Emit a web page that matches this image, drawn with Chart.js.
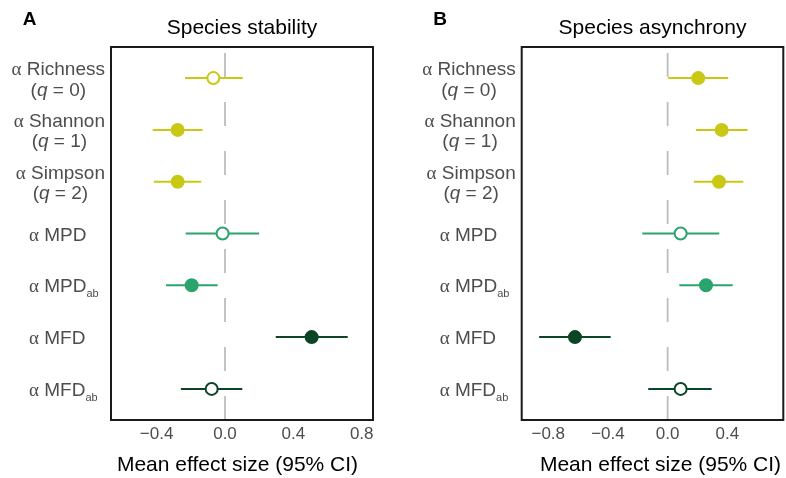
<!DOCTYPE html>
<html>
<head>
<meta charset="utf-8">
<script src="https://cdn.jsdelivr.net/npm/chart.js@4.4.0/dist/chart.umd.min.js"></script>
<style>
  html, body { margin: 0; padding: 0; background: #ffffff; }
  #wrap { position: relative; width: 786px; height: 478px; }
  canvas { position: absolute; top: 0; }
</style>
</head>
<body>
<div id="wrap">
  <canvas id="panelA" width="393" height="478" style="left:0px"></canvas>
  <canvas id="panelB" width="393" height="478" style="left:393px"></canvas>
</div>
<script>
// Diversity metrics, top to bottom ("*x*" = italic, "_ab" = subscript)
const rowLabels = [
  'α Richness\n(*q* = 0)',
  'α Shannon\n(*q* = 1)',
  'α Simpson\n(*q* = 2)',
  'α MPD',
  'α MPD_ab',
  'α MFD',
  'α MFD_ab'
];
const rowColors = ['#c9c814', '#c9c814', '#c9c814', '#2aa46c', '#2aa46c', '#0b4526', '#0b4526'];

// Species stability: mean effect size and 95% CI
const stabilityMean = [-0.068, -0.277, -0.277, -0.014, -0.195, 0.507, -0.078];
const stabilityLow  = [-0.234, -0.423, -0.416, -0.230, -0.345, 0.297, -0.258];
const stabilityHigh = [0.104, -0.131, -0.139, 0.200, -0.043, 0.718, 0.101];

// Species asynchrony: mean effect size and 95% CI
const asynchronyMean = [0.205, 0.362, 0.344, 0.087, 0.257, -0.621, 0.087];
const asynchronyLow  = [0.004, 0.190, 0.176, -0.170, 0.078, -0.861, -0.130];
const asynchronyHigh = [0.406, 0.536, 0.507, 0.346, 0.436, -0.382, 0.295];

// Tick labels of the effect-size axes
const stabilityTicks = [-0.4, 0.0, 0.4, 0.8];
const asynchronyTicks = [-0.8, -0.4, 0.0, 0.4];

const SANS = '"Liberation Sans", Arial, sans-serif';
const SERIF = '"Liberation Serif", "Times New Roman", serif';
const CANVAS_W = 393, CANVAS_H = 478;

function fmtTick(v) {
  if (Math.abs(v) < 1e-9) return '0.0';
  return (v < 0 ? '\u2212' : '') + Math.abs(v).toFixed(1);
}

// --- rich text for the row labels ---
function parseLine(line) {
  const segs = [];
  const re = /(α)|\*([^*]+)\*|_(\w+)|([^α*_]+)/g;
  let m;
  while ((m = re.exec(line))) {
    if (m[1]) segs.push({ t: m[1], kind: 'greek' });
    else if (m[2]) segs.push({ t: m[2], kind: 'italic' });
    else if (m[3]) segs.push({ t: m[3], kind: 'sub' });
    else segs.push({ t: m[4], kind: 'plain' });
  }
  return segs;
}
function segFont(kind) {
  if (kind === 'greek') return '19px ' + SERIF;
  if (kind === 'italic') return 'italic 19px ' + SANS;
  if (kind === 'sub') return '11px ' + SANS;
  return '19px ' + SANS;
}
function segsWidth(ctx, segs) {
  let w = 0;
  segs.forEach(s => { ctx.font = segFont(s.kind); w += ctx.measureText(s.t).width; });
  return w;
}
function drawSegs(ctx, segs, x, base) {
  segs.forEach(s => {
    ctx.font = segFont(s.kind);
    ctx.fillText(s.t, x, base + (s.kind === 'sub' ? 5 : 0));
    x += ctx.measureText(s.t).width;
  });
}

// Frame, row labels, panel letter and axis title
const panelDecor = {
  id: 'panelDecor',
  afterDraw(chart, args, opts) {
    const ctx = chart.ctx;
    const a = chart.chartArea;
    const ys = chart.scales.y;
    ctx.save();

    ctx.strokeStyle = '#1a1a1a';
    ctx.lineWidth = 2;
    ctx.strokeRect(a.left, a.top, a.right - a.left, a.bottom - a.top);

    ctx.fillStyle = '#4d4d4d';
    ctx.textAlign = 'left';
    ctx.textBaseline = 'alphabetic';
    rowLabels.forEach((label, i) => {
      const y = ys.getPixelForValue(i + 1);
      const lines = label.split('\n').map(parseLine);
      if (lines.length > 1) {
        const widths = lines.map(l => segsWidth(ctx, l));
        const blockW = Math.max(...widths);
        const right = a.left - 6;
        const bases = [y - 3, y + 17.5];
        lines.forEach((l, k) => drawSegs(ctx, l, right - blockW / 2 - widths[k] / 2, bases[k]));
      } else {
        drawSegs(ctx, lines[0], a.left - 82, y + 7);
      }
    });

    ctx.fillStyle = '#000000';
    ctx.font = 'bold 19px ' + SANS;
    ctx.fillText(opts.letter, opts.letterX, 25);

    ctx.font = '21px ' + SANS;
    ctx.textAlign = 'center';
    ctx.fillText(opts.axisTitle, (a.left + a.right) / 2 + opts.axisTitleShift, 471);
    ctx.restore();
  }
};

function buildPanel(canvasId, p) {
  const yMin = 1 - 0.6, yMax = rowLabels.length + 0.6;
  const datasets = [];

  // dashed reference line at zero effect, drawn from the bottom up
  datasets.push({
    type: 'line',
    data: [{ x: 0, y: yMax }, { x: 0, y: yMin }],
    borderColor: '#bdbdbd', borderWidth: 1.8, borderDash: [24, 25],
    pointRadius: 0, order: 3
  });

  // confidence intervals
  p.low.forEach((lo, i) => {
    datasets.push({
      type: 'line',
      data: [{ x: lo, y: i + 1 }, { x: p.high[i], y: i + 1 }],
      borderColor: rowColors[i], borderWidth: 2,
      pointRadius: 0, order: 2
    });
  });

  // means: filled when the CI excludes zero
  datasets.push({
    type: 'scatter',
    data: p.mean.map((m, i) => ({ x: m, y: i + 1 })),
    pointRadius: 6, pointHoverRadius: 6, pointBorderWidth: 2,
    pointBorderColor: rowColors,
    pointBackgroundColor: p.mean.map((m, i) =>
      (p.low[i] > 0 || p.high[i] < 0) ? rowColors[i] : '#ffffff'),
    order: 1
  });

  return new Chart(document.getElementById(canvasId), {
    type: 'scatter',
    data: { datasets },
    plugins: [panelDecor],
    options: {
      responsive: false,
      animation: false,
      devicePixelRatio: 1,
      events: [],
      layout: {
        autoPadding: false,
        padding: { left: p.plotLeft, right: CANVAS_W - p.plotRight, top: 0, bottom: 0 }
      },
      plugins: {
        legend: { display: false },
        tooltip: { enabled: false },
        title: {
          display: true, text: p.title, color: '#000000',
          font: { family: SANS, size: 21, weight: 'normal' },
          padding: { top: 15.4, bottom: 6.4 }
        },
        panelDecor: {
          letter: p.letter, letterX: p.letterX,
          axisTitle: 'Mean effect size (95% CI)', axisTitleShift: p.axisTitleShift
        }
      },
      scales: {
        x: {
          type: 'linear', min: p.xMin, max: p.xMax,
          grid: { display: false, drawTicks: false },
          border: { display: false },
          afterBuildTicks: s => { s.ticks = p.ticks.map(v => ({ value: v })); },
          afterFit: s => { s.height = CANVAS_H - 420; },
          ticks: {
            color: '#4d4d4d', padding: 4,
            font: { family: SANS, size: 17 },
            callback: v => fmtTick(v)
          }
        },
        y: { type: 'linear', reverse: true, min: yMin, max: yMax, display: false }
      }
    }
  });
}

buildPanel('panelA', {
  letter: 'A', letterX: 22.7, title: 'Species stability',
  mean: stabilityMean, low: stabilityLow, high: stabilityHigh,
  ticks: stabilityTicks, xMin: -0.667, xMax: 0.866,
  plotLeft: 111, plotRight: 373, axisTitleShift: -4.5
});
buildPanel('panelB', {
  letter: 'B', letterX: 40.3, title: 'Species asynchrony',
  mean: asynchronyMean, low: asynchronyLow, high: asynchronyHigh,
  ticks: asynchronyTicks, xMin: -0.978, xMax: 0.775,
  plotLeft: 128.7, plotRight: 390.3, axisTitleShift: 8
});
</script>
</body>
</html>
